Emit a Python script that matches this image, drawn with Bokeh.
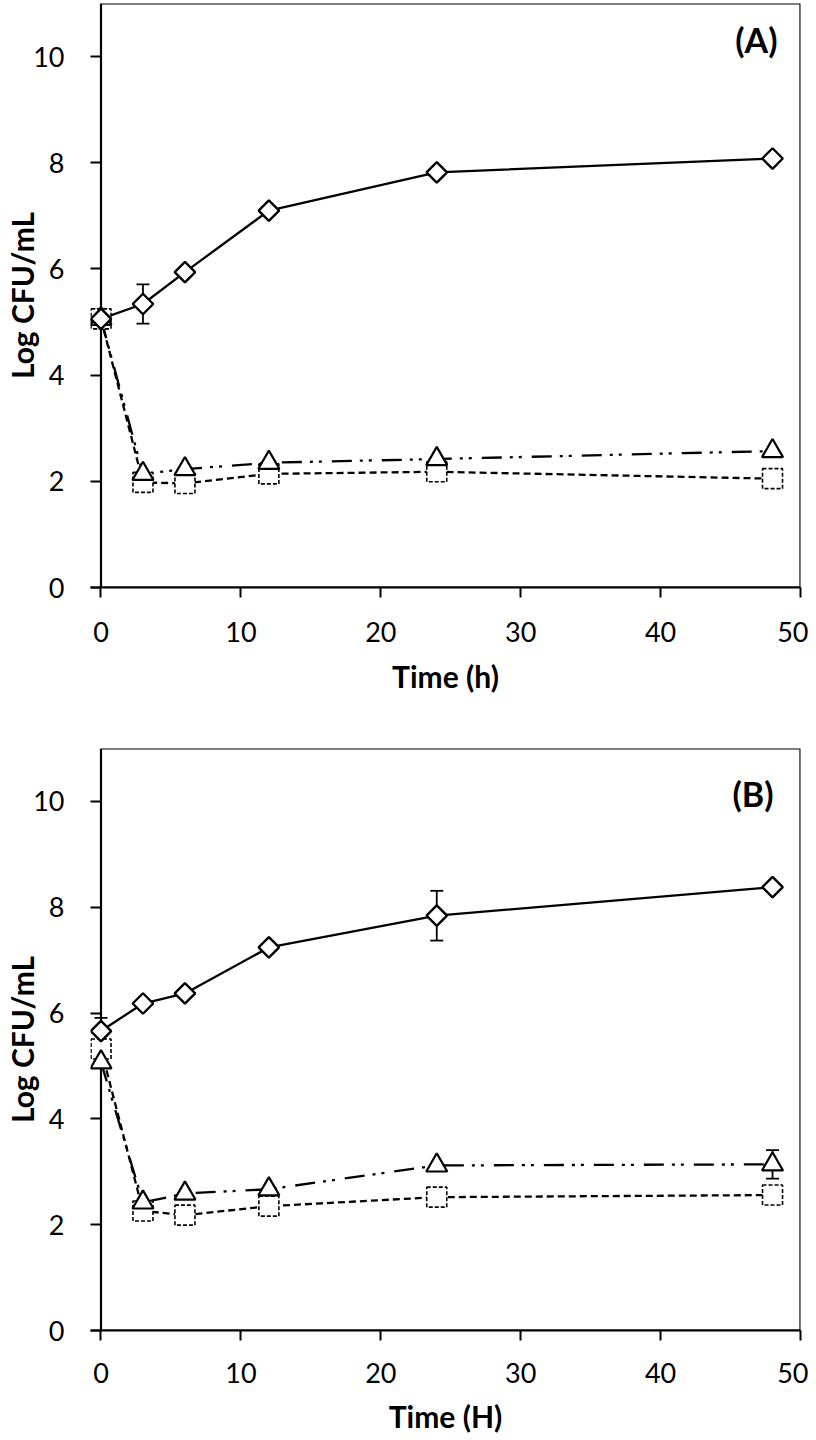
import numpy as np
from bokeh.plotting import figure
from bokeh.models import (Range1d, ColumnDataSource, Whisker, TeeHead,
                          BoxAnnotation, Label, FixedTicker)
from bokeh.layouts import column
from bokeh.embed import file_html
from bokeh.resources import INLINE

# ---------------- data ----------------
time_h = [0, 3, 6, 12, 24, 48]

a_diamond = [5.06, 5.34, 5.94, 7.10, 7.82, 8.08]
a_diamond_err = [0.18, 0.37, 0.0, 0.0, 0.0, 0.0]
a_triangle = [5.06, 2.14, 2.23, 2.35, 2.42, 2.57]
a_square = [5.06, 1.98, 1.96, 2.14, 2.18, 2.05]

b_diamond = [5.66, 6.18, 6.37, 7.24, 7.84, 8.38]
b_diamond_err = [0.25, 0.0, 0.0, 0.0, 0.47, 0.0]
b_triangle = [5.07, 2.42, 2.59, 2.67, 3.12, 3.14]
b_triangle_err = [0.0, 0.0, 0.0, 0.0, 0.0, 0.27]
b_square = [5.32, 2.26, 2.18, 2.35, 2.52, 2.56]

x_ticks = [0, 10, 20, 30, 40, 50]
y_ticks = [0, 2, 4, 6, 8, 10]

FONT = "Lato"


def add_err(p, x, y, err):
    xs = [xi for xi, e in zip(x, err) if e > 0]
    lo = [yi - e for yi, e in zip(y, err) if e > 0]
    hi = [yi + e for yi, e in zip(y, err) if e > 0]
    if not xs:
        return
    src = ColumnDataSource(dict(x=xs, lo=lo, hi=hi))
    w = Whisker(source=src, base="x", lower="lo", upper="hi",
                line_color="black", line_width=1.8, level="underlay",
                upper_head=TeeHead(size=13, line_width=1.8, line_color="black"),
                lower_head=TeeHead(size=13, line_width=1.8, line_color="black"))
    p.add_layout(w)


def make_panel(height, top_border, bottom_border, xlabel, letter,
               letter_xy, dia, tri, sq, dia_err, tri_err,
               tick_standoff, label_standoff):
    y_end = 11
    p = figure(width=808, height=height,
               x_range=Range1d(-0.75, 50), y_range=Range1d(0, y_end),
               output_backend="svg", toolbar_location=None,
               min_border_left=90, min_border_right=8,
               min_border_top=top_border, min_border_bottom=bottom_border)
    p.grid.visible = False
    p.outline_line_color = None
    p.background_fill_color = "white"
    p.border_fill_color = "white"

    # plot-area box (left, top, right, bottom)
    p.add_layout(BoxAnnotation(left=0, right=50, bottom=0, top=y_end,
                               fill_alpha=0, line_color="black",
                               line_alpha=1, line_width=2.2,
                               level="underlay"))

    # axes
    p.xaxis.ticker = FixedTicker(ticks=x_ticks)
    p.yaxis.ticker = FixedTicker(ticks=y_ticks)
    for ax in (p.xaxis[0], p.yaxis[0]):
        ax.axis_line_width = 2.2
        ax.axis_line_color = "black"
        ax.major_tick_line_width = 2
        ax.major_tick_line_color = "black"
        ax.minor_tick_line_color = None
        ax.major_label_text_font = FONT
        ax.major_label_text_font_size = "27px"
        ax.major_label_text_color = "black"
        ax.axis_label_text_font = FONT
        ax.axis_label_text_font_size = "30px"
        ax.axis_label_text_font_style = "bold"
        ax.axis_label_text_color = "black"
    p.yaxis.axis_line_color = None
    p.xaxis.major_tick_out = 10
    p.xaxis.major_tick_in = 0
    # y ticks drawn inward from the frame edge so they sit just left of x=0
    p.yaxis.major_tick_out = 0
    p.yaxis.major_tick_in = 10
    p.xaxis.major_label_standoff = tick_standoff
    p.xaxis.axis_label_standoff = label_standoff
    p.yaxis.major_label_standoff = 26
    p.yaxis.axis_label_standoff = -10
    p.xaxis.axis_label = xlabel
    p.yaxis.axis_label = "Log CFU/mL"

    add_err(p, time_h, dia, dia_err)
    add_err(p, time_h, tri, tri_err)

    # lines
    p.line(time_h, sq, line_color="black", line_width=2.3, line_dash="7 4")
    p.line(time_h, tri, line_color="black", line_width=2.3,
           line_dash="20 8 3 6 3 10")
    p.line(time_h, dia, line_color="black", line_width=2.3)

    # markers
    p.scatter(time_h, sq, marker="square", size=20, fill_color="white",
              line_color="black", line_width=1.6, line_dash="4 2")
    p.scatter(time_h, tri, marker="triangle", size=21, fill_color="white",
              line_color="black", line_width=2.2)
    p.scatter(time_h, dia, marker="square", angle=np.pi / 4, size=14.5,
              fill_color="white", line_color="black", line_width=2.4)

    p.add_layout(Label(x=letter_xy[0], y=letter_xy[1], text=letter,
                       text_align="center", text_baseline="middle",
                       text_font=FONT, text_font_style="bold",
                       text_font_size="34px", text_color="black"))
    return p


pA = make_panel(703, 3, 116, "Time (h)", "(A)", (46.85, 10.32),
                a_diamond, a_triangle, a_square, a_diamond_err,
                [0] * 6, 24, 13)
pB = make_panel(737, 45, 110, "Time (H)", "(B)", (46.6, 10.15),
                b_diamond, b_triangle, b_square, b_diamond_err,
                b_triangle_err, 22, 12)

layout = column(pA, pB, spacing=0)
open("out.html", "w").write(file_html(layout, INLINE))
